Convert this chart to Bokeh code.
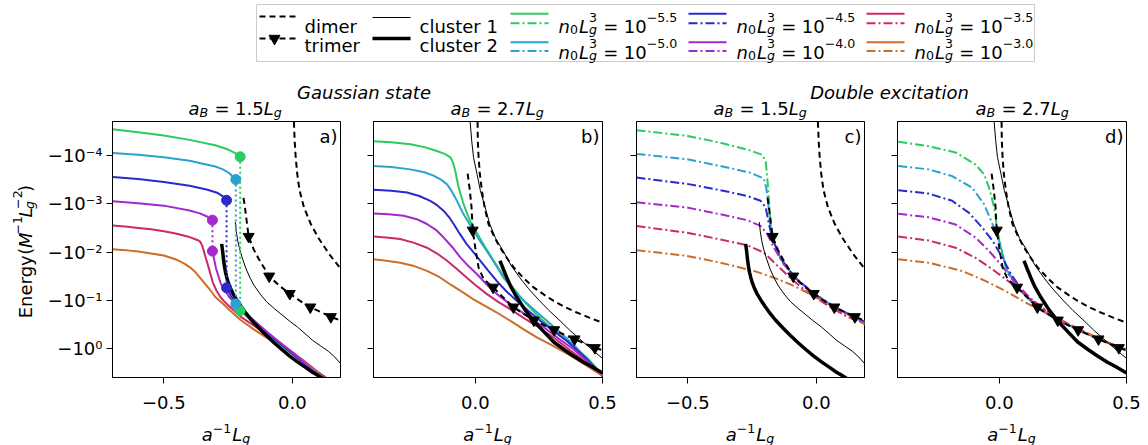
import math
from bokeh.plotting import figure
from bokeh.layouts import column, row
from bokeh.models import Range1d, FixedTicker
from bokeh.core.properties import value
from bokeh.embed import file_html
from bokeh.resources import INLINE

FONT = "DejaVu Sans"

# ---------------- categories / labels ----------------
DENSITY_EXP = ["−5.5", "−5.0", "−4.5", "−4.0", "−3.5", "−3.0"]
COLORS = ["#29cc5f", "#29a3cc", "#2929cc", "#a329cc", "#cc296d", "#cc6d29"]
Y_TICKS = [-4, -3, -2, -1, 0]
Y_TICK_LABELS = ["−10⁻⁴", "−10⁻³", "−10⁻²", "−10⁻¹", "−10⁰"]
PANEL_LABELS = ["a)", "b)", "c)", "d)"]
A_B_VALUES = ["1.5", "2.7", "1.5", "2.7"]
GROUP_TITLES = ["Gaussian state", "Double excitation"]

# ---------------- data: x = a^-1 L_g, values = log10(-E) ----------------
# Panel a: Gaussian state, a_B = 1.5 L_g (upper branch / lower branch)
a55_x = [-0.70, -0.60, -0.50, -0.40, -0.30, -0.25, -0.22, -0.203]
a55_e = [-4.54, -4.48, -4.41, -4.32, -4.21, -4.12, -4.04, -3.97]
a55_xl = [-0.203, -0.17, -0.11, -0.04, 0.04, 0.115]
a55_el = [-0.79, -0.63, -0.36, -0.05, 0.27, 0.59]
a50_x = [-0.70, -0.60, -0.50, -0.40, -0.30, -0.27, -0.245, -0.22]
a50_e = [-4.05, -4.01, -3.96, -3.89, -3.77, -3.71, -3.63, -3.50]
a50_xl = [-0.22, -0.19, -0.13, -0.06, 0.02, 0.115]
a50_el = [-0.93, -0.77, -0.47, -0.16, 0.17, 0.59]
a45_x = [-0.70, -0.60, -0.50, -0.40, -0.33, -0.29, -0.27, -0.256]
a45_e = [-3.55, -3.51, -3.45, -3.37, -3.29, -3.22, -3.15, -3.07]
a45_xl = [-0.256, -0.24, -0.21, -0.15, -0.08, 0.0, 0.11]
a45_el = [-1.26, -1.10, -0.90, -0.58, -0.25, 0.10, 0.59]
a40_x = [-0.70, -0.60, -0.50, -0.40, -0.36, -0.33, -0.311]
a40_e = [-3.05, -3.01, -2.96, -2.86, -2.80, -2.73, -2.66]
a40_xl = [-0.311, -0.297, -0.278, -0.246, -0.188, -0.097, 0.006, 0.11]
a40_el = [-2.02, -1.66, -1.34, -1.07, -0.76, -0.34, 0.10, 0.59]
a35_x = [-0.70, -0.65, -0.60, -0.55, -0.50, -0.45, -0.40, -0.38, -0.37, -0.36, -0.355, -0.35, -0.345, -0.34,
         -0.33, -0.32, -0.31, -0.295, -0.28, -0.265, -0.25, -0.225, -0.20, -0.15, -0.10, -0.05, 0.00, 0.05, 0.10, 0.13]
a35_e = [-2.55, -2.53, -2.50, -2.47, -2.43, -2.38, -2.31, -2.27, -2.25, -2.22, -2.18, -2.12, -2.03, -1.93,
         -1.76, -1.57, -1.38, -1.20, -1.07, -0.98, -0.90, -0.78, -0.66, -0.48, -0.31, -0.12, 0.07, 0.27, 0.48, 0.59]
a30_x = [-0.70, -0.65, -0.60, -0.55, -0.50, -0.45, -0.42, -0.40, -0.38, -0.35, -0.32, -0.30, -0.27, -0.25,
         -0.20, -0.15, -0.10, -0.05, 0.00, 0.05, 0.10, 0.12]
a30_e = [-2.06, -2.04, -2.01, -1.97, -1.93, -1.84, -1.76, -1.69, -1.60, -1.41, -1.22, -1.07, -0.93, -0.83,
         -0.59, -0.40, -0.23, -0.06, 0.10, 0.29, 0.50, 0.59]

# Panel b: Gaussian state, a_B = 2.7 L_g
b55_x = [-0.40, -0.33, -0.255, -0.20, -0.151, -0.12, -0.098, -0.088, -0.079, -0.072, -0.065, -0.055, -0.046, -0.033,
         -0.020, 0.0, 0.020, 0.045, 0.072, 0.10, 0.137, 0.17, 0.203, 0.24, 0.281, 0.32, 0.360, 0.40, 0.438, 0.47, 0.50]
b55_e = [-4.29, -4.27, -4.23, -4.17, -4.09, -4.03, -3.96, -3.86, -3.68, -3.50, -3.33, -3.15, -2.99, -2.81,
         -2.64, -2.45, -2.27, -2.05, -1.82, -1.59, -1.34, -1.12, -0.92, -0.71, -0.51, -0.33, -0.16, 0.01, 0.18, 0.36, 0.56]
b50_x = [-0.40, -0.33, -0.255, -0.20, -0.164, -0.135, -0.111, -0.095, -0.079, -0.06, -0.046, -0.025, -0.007, 0.02,
         0.046, 0.08, 0.111, 0.145, 0.177, 0.23, 0.281, 0.33, 0.386, 0.44, 0.50]
b50_e = [-3.78, -3.76, -3.71, -3.65, -3.58, -3.50, -3.40, -3.28, -3.13, -2.93, -2.78, -2.60, -2.44, -2.22,
         -2.02, -1.74, -1.47, -1.25, -1.06, -0.81, -0.58, -0.35, -0.09, 0.22, 0.56]
b45_x = [-0.40, -0.33, -0.268, -0.22, -0.177, -0.15, -0.124, -0.10, -0.085, -0.06, -0.033, 0.0, 0.020, 0.05,
         0.085, 0.12, 0.164, 0.21, 0.255, 0.31, 0.36, 0.43, 0.50]
b45_e = [-3.29, -3.27, -3.23, -3.16, -3.06, -2.97, -2.85, -2.70, -2.58, -2.37, -2.16, -1.95, -1.82, -1.62,
         -1.40, -1.20, -0.99, -0.78, -0.58, -0.36, -0.16, 0.17, 0.56]
b40_x = [-0.40, -0.34, -0.281, -0.23, -0.19, -0.155, -0.124, -0.09, -0.059, -0.025, 0.007, 0.045, 0.085, 0.13,
         0.177, 0.23, 0.281, 0.33, 0.386, 0.44, 0.50]
b40_e = [-2.80, -2.78, -2.75, -2.68, -2.58, -2.46, -2.30, -2.10, -1.89, -1.70, -1.54, -1.33, -1.13, -0.95,
         -0.78, -0.59, -0.40, -0.20, 0.01, 0.26, 0.56]
b35_x = [-0.40, -0.35, -0.295, -0.24, -0.19, -0.15, -0.111, -0.07, -0.033, 0.0, 0.046, 0.09, 0.137, 0.19,
         0.242, 0.30, 0.36, 0.43, 0.50]
b35_e = [-2.32, -2.30, -2.27, -2.19, -2.09, -1.97, -1.82, -1.64, -1.47, -1.32, -1.13, -0.97, -0.82, -0.64,
         -0.47, -0.26, -0.02, 0.26, 0.56]
b30_x = [-0.40, -0.35, -0.295, -0.24, -0.19, -0.14, -0.098, -0.05, -0.007, 0.04, 0.085, 0.14, 0.19, 0.24,
         0.295, 0.35, 0.399, 0.45, 0.50]
b30_e = [-1.85, -1.82, -1.78, -1.71, -1.61, -1.48, -1.33, -1.17, -1.02, -0.88, -0.75, -0.57, -0.40, -0.24,
         -0.09, 0.07, 0.22, 0.39, 0.56]

# Panel c: double excitation, a_B = 1.5 L_g
c55_x = [-0.70, -0.50, -0.373, -0.269, -0.210, -0.197, -0.191, -0.184, -0.178, -0.171, -0.139, -0.087, -0.009, 0.069, 0.147, 0.19]
c55_e = [-4.52, -4.40, -4.26, -4.12, -4.01, -3.88, -3.54, -3.06, -2.57, -2.30, -1.87, -1.49, -1.14, -0.87, -0.66, -0.56]
c50_x = [-0.70, -0.503, -0.373, -0.256, -0.205, -0.195, -0.188, -0.18, -0.17, -0.139, -0.087, -0.009, 0.069, 0.147, 0.19]
c50_e = [-4.03, -3.92, -3.78, -3.64, -3.52, -3.33, -3.06, -2.57, -2.28, -1.87, -1.49, -1.14, -0.87, -0.66, -0.55]
c45_x = [-0.70, -0.503, -0.373, -0.269, -0.217, -0.197, -0.184, -0.171, -0.139, -0.087, -0.009, 0.069, 0.147, 0.19]
c45_e = [-3.54, -3.41, -3.28, -3.16, -3.06, -2.92, -2.57, -2.28, -1.87, -1.49, -1.14, -0.87, -0.66, -0.55]
c40_x = [-0.70, -0.503, -0.373, -0.269, -0.217, -0.191, -0.165, -0.126, -0.074, -0.009, 0.069, 0.147, 0.19]
c40_e = [-3.03, -2.92, -2.78, -2.66, -2.54, -2.37, -2.09, -1.74, -1.43, -1.12, -0.86, -0.63, -0.52]
c35_x = [-0.70, -0.503, -0.373, -0.269, -0.204, -0.152, -0.100, -0.035, 0.043, 0.121, 0.19]
c35_e = [-2.54, -2.40, -2.26, -2.14, -1.99, -1.72, -1.46, -1.17, -0.90, -0.66, -0.51]
c30_x = [-0.70, -0.503, -0.373, -0.243, -0.165, -0.087, -0.009, 0.069, 0.147, 0.19]
c30_e = [-2.04, -1.92, -1.78, -1.61, -1.47, -1.30, -1.09, -0.86, -0.64, -0.50]

# Panel d: double excitation, a_B = 2.7 L_g
d55_x = [-0.397, -0.278, -0.172, -0.093, -0.060, -0.040, -0.020, -0.007, 0.026, 0.066, 0.146, 0.231, 0.317, 0.397, 0.50]
d55_e = [-4.28, -4.19, -4.06, -3.81, -3.61, -3.33, -2.92, -2.43, -1.65, -1.30, -0.87, -0.59, -0.38, -0.19, 0.03]
d50_x = [-0.397, -0.278, -0.185, -0.106, -0.060, -0.026, 0.0, 0.026, 0.066, 0.146, 0.231, 0.317, 0.397, 0.50]
d50_e = [-3.78, -3.71, -3.57, -3.33, -2.99, -2.57, -2.23, -1.70, -1.30, -0.87, -0.59, -0.38, -0.19, 0.03]
d45_x = [-0.397, -0.278, -0.185, -0.119, -0.066, -0.026, 0.013, 0.046, 0.093, 0.146, 0.231, 0.317, 0.397, 0.50]
d45_e = [-3.28, -3.21, -3.06, -2.81, -2.50, -2.23, -1.88, -1.54, -1.19, -0.88, -0.59, -0.38, -0.19, 0.03]
d40_x = [-0.397, -0.278, -0.172, -0.093, -0.040, 0.0, 0.053, 0.119, 0.212, 0.30, 0.397, 0.50]
d40_e = [-2.79, -2.72, -2.57, -2.30, -2.02, -1.78, -1.43, -1.06, -0.66, -0.41, -0.19, 0.03]
d35_x = [-0.397, -0.278, -0.172, -0.093, -0.026, 0.053, 0.132, 0.225, 0.317, 0.397, 0.50]
d35_e = [-2.32, -2.24, -2.09, -1.88, -1.64, -1.33, -0.99, -0.64, -0.39, -0.19, 0.03]
d30_x = [-0.397, -0.278, -0.146, -0.053, 0.026, 0.106, 0.198, 0.291, 0.384, 0.50]
d30_e = [-1.85, -1.78, -1.61, -1.40, -1.19, -0.95, -0.70, -0.47, -0.23, 0.03]

# Few-body references, a_B = 1.5 L_g
dim15_x = [0.004, 0.006, 0.009, 0.013, 0.019, 0.028, 0.045, 0.071, 0.103, 0.142, 0.19]
dim15_e = [-4.90, -4.71, -4.31, -3.97, -3.62, -3.28, -2.93, -2.59, -2.28, -1.97, -1.64]
tri15_x = [-0.19, -0.185, -0.178, -0.17, -0.15, -0.13, -0.09, -0.05, -0.01, 0.03, 0.07, 0.11, 0.15, 0.19]
tri15_e = [-3.12, -2.95, -2.65, -2.32, -2.05, -1.85, -1.50, -1.30, -1.14, -0.99, -0.86, -0.76, -0.66, -0.58]
tri15_mx = [-0.17, -0.09, -0.01, 0.07, 0.15]
tri15_me = [-2.32, -1.50, -1.14, -0.86, -0.66]
cl1_15_x = [-0.222, -0.218, -0.212, -0.205, -0.195, -0.18, -0.165, -0.15, -0.125, -0.10, -0.07, -0.04, -0.01, 0.02,
            0.05, 0.08, 0.11, 0.14, 0.165, 0.19]
cl1_15_e = [-2.62, -2.42, -2.22, -2.06, -1.88, -1.65, -1.47, -1.32, -1.13, -0.97, -0.83, -0.70, -0.57, -0.45,
            -0.31, -0.17, -0.06, 0.05, 0.17, 0.32]
cl2_15_x = [-0.275, -0.271, -0.268, -0.264, -0.26, -0.255, -0.25, -0.24, -0.23, -0.215, -0.20, -0.18, -0.16, -0.13,
            -0.10, -0.07, -0.04, -0.01, 0.02, 0.05, 0.08, 0.10, 0.12]
cl2_15_e = [-2.17, -2.00, -1.85, -1.70, -1.58, -1.47, -1.38, -1.24, -1.13, -1.00, -0.88, -0.73, -0.60, -0.43,
            -0.27, -0.12, 0.02, 0.15, 0.27, 0.38, 0.49, 0.55, 0.62]

# Few-body references, a_B = 2.7 L_g
dim27_x = [0.008, 0.009, 0.010, 0.013, 0.018, 0.026, 0.037, 0.052, 0.075, 0.098, 0.125, 0.151, 0.19, 0.229, 0.27,
           0.308, 0.35, 0.399, 0.45, 0.50]
dim27_e = [-4.90, -4.70, -4.30, -3.96, -3.61, -3.27, -2.92, -2.58, -2.31, -2.09, -1.87, -1.68, -1.46, -1.27, -1.12,
           -0.99, -0.87, -0.75, -0.64, -0.54]
tri27_x = [-0.03, -0.022, -0.015, -0.01, 0.0, 0.013, 0.033, 0.07, 0.11, 0.15, 0.19, 0.23, 0.27, 0.31, 0.35, 0.39, 0.43, 0.47, 0.50]
tri27_e = [-3.62, -3.30, -2.95, -2.45, -2.09, -1.68, -1.44, -1.27, -1.06, -0.86, -0.72, -0.59, -0.49, -0.39, -0.29, -0.20, -0.11, -0.02, 0.03]
tri27_mx = [-0.01, 0.07, 0.15, 0.23, 0.31, 0.39, 0.47]
tri27_me = [-2.45, -1.27, -0.86, -0.59, -0.39, -0.20, -0.02]
cl1_27_x = [-0.021, -0.014, -0.007, 0.007, 0.02, 0.039, 0.057, 0.08, 0.11, 0.14, 0.175, 0.21, 0.253, 0.29, 0.333,
            0.37, 0.411, 0.455, 0.50]
cl1_27_e = [-4.75, -4.30, -3.96, -3.61, -3.27, -2.92, -2.58, -2.28, -2.02, -1.73, -1.47, -1.24, -0.99, -0.79, -0.58,
            -0.39, -0.20, 0.00, 0.20]
cl2_27_x = [0.097, 0.104, 0.11, 0.124, 0.14, 0.164, 0.195, 0.229, 0.27, 0.308, 0.35, 0.386, 0.425, 0.465, 0.50]
cl2_27_e = [-1.82, -1.73, -1.65, -1.47, -1.28, -1.06, -0.81, -0.58, -0.35, -0.14, 0.02, 0.15, 0.28, 0.39, 0.50]

A_X = [a55_x, a50_x, a45_x, a40_x, a35_x, a30_x]
A_E = [a55_e, a50_e, a45_e, a40_e, a35_e, a30_e]
A_XL = [a55_xl, a50_xl, a45_xl, a40_xl]
A_EL = [a55_el, a50_el, a45_el, a40_el]
B_X = [b55_x, b50_x, b45_x, b40_x, b35_x, b30_x]
B_E = [b55_e, b50_e, b45_e, b40_e, b35_e, b30_e]
C_X = [c55_x, c50_x, c45_x, c40_x, c35_x, c30_x]
C_E = [c55_e, c50_e, c45_e, c40_e, c35_e, c30_e]
D_X = [d55_x, d50_x, d45_x, d40_x, d35_x, d30_x]
D_E = [d55_e, d50_e, d45_e, d40_e, d35_e, d30_e]

DASHED = "6 4"
DASHDOT = "9 3 2 3"
DOTTED = "2 3"

# ---------------- text helpers (DejaVu Sans advance widths, em) ----------------
CW = {c: 0.636 for c in "0123456789"}
CW.update({'.': 0.318, '−': 0.838, '=': 0.838, ' ': 0.318, '(': 0.390, ')': 0.390,
           'E': 0.632, 'n': 0.634, 'e': 0.615, 'r': 0.411, 'g': 0.635, 'y': 0.592,
           'a': 0.613, 'B': 0.686, 'L': 0.557, 'M': 0.863})
RAISE = {'sup': 0.46, 'supl': 0.33, 'sub': -0.2}


def tw(s, size):
    return sum(CW.get(c, 0.6) for c in s) * size


def layout_math(pieces, size):
    out = []
    x = 0.0
    i = 0
    small = round(size * 0.7, 1)
    while i < len(pieces):
        t, kind, it = pieces[i]
        if kind == 'n':
            out.append((x, 0.0, t, size, it))
            x += tw(t, size)
            i += 1
        elif kind == 'gap':
            x += float(t)
            i += 1
        elif kind == 'eq':
            x += 0.3 * size
            out.append((x, 0.0, t, size, it))
            x += tw(t, size) + 0.3 * size
            i += 1
        elif kind == 'sub' and i + 1 < len(pieces) and pieces[i + 1][1] in ('sup', 'supl'):
            t2, k2, it2 = pieces[i + 1]
            out.append((x, -0.22 * size, t, small, it))
            out.append((x, RAISE[k2] * size, t2, small, it2))
            x += max(tw(t, small), tw(t2, small)) + 1
            i += 2
        else:
            out.append((x, RAISE[kind] * size, t, small, it))
            x += tw(t, small) + 1
            i += 1
    return out, x


def draw_math(p, x0, y0, pieces, size=18, align='left', vertical=False):
    items, w = layout_math(pieces, size)
    off = -w / 2 if align == 'center' else 0.0
    for dx, dy, t, sz, it in items:
        if vertical:
            xx, yy, ang = x0 - dy, y0 - (off + dx), math.pi / 2
        else:
            xx, yy, ang = x0 + off + dx, y0 - dy, 0.0
        p.text(x=[xx], y=[yy], text=[t], angle=ang, text_font=value(FONT),
               text_font_size=f"{sz}px", text_font_style="italic" if it else "normal",
               text_color="black", text_align="left", text_baseline="alphabetic")


def blank_fig(w, h, x0, x1, y_bottom, y_top):
    f = figure(width=w, height=h, x_range=Range1d(x0, x1), y_range=Range1d(y_bottom, y_top),
               output_backend="svg", toolbar_location=None, x_axis_type=None, y_axis_type=None,
               min_border=0, min_border_left=0, min_border_right=0, min_border_top=0, min_border_bottom=0)
    f.grid.visible = False
    f.outline_line_color = None
    return f


# ---------------- header: legend and titles (screen pixel coordinates) ----------------
hdr = blank_fig(1148, 120, 0, 1148, 120, 0)
hdr.quad(left=[256], right=[1034], top=[4], bottom=[61], fill_color="white",
         line_color="#cccccc", line_width=1)

# column 1: dimer / trimer
hdr.line([259, 297], [16, 16], line_color="black", line_width=2, line_dash=DASHED)
hdr.line([259, 297], [38, 38], line_color="black", line_width=2, line_dash=DASHED)
hdr.scatter([274], [38], marker="inverted_triangle", size=11, color="black")
# column 2: clusters
hdr.line([372, 410], [17, 17], line_color="black", line_width=1)
hdr.line([372, 410], [38, 38], line_color="black", line_width=3.5)
for tx, ty, tt in [(304, 26, "dimer"), (304, 45, "trimer"), (419, 26, "cluster 1"), (419, 45, "cluster 2")]:
    hdr.text(x=[tx], y=[ty], text=[tt], text_font=value(FONT), text_font_size="18px",
             text_color="black", text_align="left", text_baseline="alphabetic")

handle_x0 = [510, 510, 688, 688, 866, 866]
row_solid_y = [13.3, 41.7]
row_dash_y = [22.7, 50.5]
row_text_y = [25.5, 51.5]
for i, exp in enumerate(DENSITY_EXP):
    r = i % 2
    hx = handle_x0[i]
    hdr.line([hx, hx + 38], [row_solid_y[r]] * 2, line_color=COLORS[i], line_width=2)
    hdr.line([hx, hx + 38], [row_dash_y[r]] * 2, line_color=COLORS[i], line_width=2, line_dash=DASHDOT)
    draw_math(hdr, hx + 48, row_text_y[r],
              [("n", "n", True), ("0", "sub", False), ("L", "n", True), ("g", "sub", True), ("3", "sup", False),
               ("=", "eq", False), ("10", "n", False), (exp, "sup", False)])

hdr.text(x=[363.5, 889], y=[92, 92], text=GROUP_TITLES, text_font=value(FONT), text_font_size="18px",
         text_font_style="italic", text_color="black", text_align="center", text_baseline="alphabetic")
title_x = [188, 450, 713, 975]
for tx, ab in zip(title_x, A_B_VALUES):
    draw_math(hdr, tx, 108, [("a", "n", True), ("B", "sub", True), ("=", "eq", False),
                             (ab, "n", False), ("L", "n", True), ("g", "sub", True)])

# ---------------- y-label column ----------------
PANEL_H = 296
ylab = blank_fig(40, PANEL_H, 0, 40, 120 + PANEL_H, 120)
draw_math(ylab, 25, 271, [("Energy", "n", False), ("10", "gap", False), ("(", "n", False), ("1", "gap", False),
                          ("M", "n", True), ("−1", "sup", False),
                          ("L", "n", True), ("g", "sub", True), ("−2", "sup", False), (")", "n", False)],
          align='center', vertical=True)


# ---------------- panels ----------------
def make_panel(xr, xticks, xlabels, bl, br, w, show_y, tag):
    p = figure(width=w, height=PANEL_H, x_range=Range1d(*xr), y_range=Range1d(0.594, -4.70),
               output_backend="svg", toolbar_location=None,
               min_border_left=bl, min_border_right=br, min_border_top=1, min_border_bottom=PANEL_H - 257)
    p.grid.visible = False
    p.outline_line_color = "black"
    p.outline_line_width = 1
    p.outline_line_alpha = 1.0
    for ax in (p.xaxis[0], p.yaxis[0]):
        ax.axis_line_color = "black"
        ax.major_tick_line_color = "black"
        ax.major_tick_out = 6
        ax.major_tick_in = 0
        ax.minor_tick_line_color = None
        ax.major_label_text_font = FONT
        ax.major_label_text_font_size = "18px"
        ax.major_label_text_color = "black"
    p.xaxis.ticker = FixedTicker(ticks=xticks)
    p.xaxis.major_label_overrides = dict(zip(xticks, xlabels))
    p.xaxis.major_label_standoff = 12
    p.yaxis.ticker = FixedTicker(ticks=Y_TICKS)
    if show_y:
        p.yaxis.major_label_overrides = dict(zip(Y_TICKS, Y_TICK_LABELS))
        p.yaxis.major_label_standoff = 4
    else:
        p.yaxis.major_label_overrides = {t: "" for t in Y_TICKS}
        p.yaxis.major_label_standoff = 0
    p.text(x=[xr[1]], y=[-4.70], text=[tag], x_offset=-3, y_offset=4, text_font=value(FONT),
           text_font_size="18px", text_color="black", text_align="right", text_baseline="top")
    return p


def draw_refs(p, dim_x, dim_e, tri_x, tri_e, tri_mx, tri_me, c1x, c1e, c2x, c2e):
    p.line(c1x, c1e, line_color="black", line_width=1)
    p.line(c2x, c2e, line_color="black", line_width=3.5)
    p.line(dim_x, dim_e, line_color="black", line_width=2, line_dash=DASHED)
    p.line(tri_x, tri_e, line_color="black", line_width=2, line_dash=DASHED)
    p.scatter(tri_mx, tri_me, marker="inverted_triangle", size=11, color="black")


pa = make_panel((-0.70, 0.1875), [-0.5, 0.0], ["−0.5", "0.0"], 72, 16, 316, True, PANEL_LABELS[0])
pb = make_panel((-0.40, 0.50), [0.0, 0.5], ["0.0", "0.5"], 17, 16, 262, False, PANEL_LABELS[1])
pc = make_panel((-0.70, 0.1875), [-0.5, 0.0], ["−0.5", "0.0"], 18, 16, 262, False, PANEL_LABELS[2])
pd = make_panel((-0.40, 0.50), [0.0, 0.5], ["0.0", "0.5"], 17, 22, 268, False, PANEL_LABELS[3])

# panel a
for i in range(6):
    pa.line(A_X[i], A_E[i], line_color=COLORS[i], line_width=2)
for i in range(4):
    pa.line(A_XL[i], A_EL[i], line_color=COLORS[i], line_width=2)
draw_refs(pa, dim15_x, dim15_e, tri15_x, tri15_e, tri15_mx, tri15_me, cl1_15_x, cl1_15_e, cl2_15_x, cl2_15_e)
for i in range(4):
    xd = A_X[i][-1]
    pa.line([xd, xd], [A_E[i][-1], A_EL[i][0]], line_color=COLORS[i], line_width=2, line_dash=DOTTED)
    pa.scatter([xd, xd], [A_E[i][-1], A_EL[i][0]], marker="circle", size=10, color=COLORS[i])

# panel b
for i in range(6):
    pb.line(B_X[i], B_E[i], line_color=COLORS[i], line_width=2)
draw_refs(pb, dim27_x, dim27_e, tri27_x, tri27_e, tri27_mx, tri27_me, cl1_27_x, cl1_27_e, cl2_27_x, cl2_27_e)

# panel c
for i in range(6):
    pc.line(C_X[i], C_E[i], line_color=COLORS[i], line_width=2, line_dash=DASHDOT)
draw_refs(pc, dim15_x, dim15_e, tri15_x, tri15_e, tri15_mx, tri15_me, cl1_15_x, cl1_15_e, cl2_15_x, cl2_15_e)

# panel d
for i in range(6):
    pd.line(D_X[i], D_E[i], line_color=COLORS[i], line_width=2, line_dash=DASHDOT)
draw_refs(pd, dim27_x, dim27_e, tri27_x, tri27_e, tri27_mx, tri27_me, cl1_27_x, cl1_27_e, cl2_27_x, cl2_27_e)

# ---------------- footer: x-axis labels ----------------
FTR_TOP = 120 + PANEL_H
ftr = blank_fig(1148, 445 - FTR_TOP, 0, 1148, 445, FTR_TOP)
for cx in [226, 487.5, 750, 1011.5]:
    draw_math(ftr, cx, 434, [("a", "n", True), ("−1", "supl", False), ("L", "n", True), ("g", "sub", True)],
              align='center')

layout = column(hdr, row(ylab, pa, pb, pc, pd), ftr)
open("out.html", "w").write(file_html(layout, INLINE))
